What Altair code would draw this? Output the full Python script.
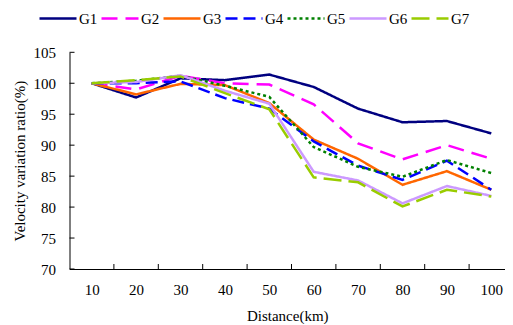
import altair as alt
import pandas as pd

distance = [10, 20, 30, 40, 50, 60, 70, 80, 90, 100]
g1 = [100, 97.7, 100.8, 100.5, 101.4, 99.4, 95.9, 93.7, 93.9, 91.9]
g2 = [100, 99.0, 101.2, 100.0, 99.8, 96.6, 90.3, 87.7, 90.0, 87.8]
g3 = [100, 98.2, 99.9, 99.7, 96.8, 90.9, 87.8, 83.6, 85.8, 82.8]
g4 = [100, 100.0, 100.3, 97.6, 95.9, 90.6, 86.7, 84.4, 87.5, 82.8]
g5 = [100, 100.4, 101.2, 99.6, 97.8, 89.7, 86.5, 84.9, 87.6, 85.5]
g6 = [100, 100.2, 101.3, 98.8, 96.7, 85.7, 84.3, 80.6, 83.4, 81.8]
g7 = [100, 100.5, 101.1, 98.4, 95.8, 84.8, 84.0, 80.1, 82.8, 81.7]

series = ["G1", "G2", "G3", "G4", "G5", "G6", "G7"]
colors = ["#000080", "#FF00FF", "#FF6600", "#0000FF", "#008000", "#CC99FF", "#99CC00"]
dashes = [[1, 0], [16, 8], [1, 0], [12, 6], [3, 3], [1, 0], [18, 7]]
y_ticks = [70, 75, 80, 85, 90, 95, 100, 105]
x_tick_marks = [15, 25, 35, 45, 55, 65, 75, 85, 95]

rows = []
for name, vals in zip(series, [g1, g2, g3, g4, g5, g6, g7]):
    for d, v in zip(distance, vals):
        rows.append({"Distance": d, "Ratio": v, "Group": name})
df = pd.DataFrame(rows)

LEFT = 61.5
UNIT = 4.44
W = 497 - LEFT
H = 216.7
FONT = "Liberation Serif"

x_scale = alt.Scale(domain=[5, 5 + W / UNIT], nice=False, zero=False)
y_scale = alt.Scale(domain=[70, 105], nice=False, zero=False)

x_axis = alt.Axis(values=distance, title="Distance(km)", ticks=False, grid=False,
                  labelPadding=13, titlePadding=11, format="d", labelFlush=False)
y_axis = alt.Axis(values=y_ticks, title="Velocity variation ratio(%)", ticks=False,
                  grid=False, labelPadding=14, titlePadding=6)

legend = alt.Legend(
    orient="none", legendX=8 + 30 - 8 - LEFT, legendY=-53.8, direction="horizontal", columns=7,
    symbolType="stroke", symbolSize=1369, symbolStrokeWidth=2.5,
    labelFont=FONT, labelFontSize=15, labelColor="black", labelOffset=1,
    columnPadding=-2, title=None, padding=0,
)

lines = alt.Chart(df).mark_line(strokeWidth=2.5).encode(
    x=alt.X("Distance:Q", scale=x_scale, axis=x_axis, title="Distance(km)"),
    y=alt.Y("Ratio:Q", scale=y_scale, axis=y_axis, title="Velocity variation ratio(%)"),
    color=alt.Color("Group:N", scale=alt.Scale(domain=series, range=colors), legend=legend),
    strokeDash=alt.StrokeDash("Group:N", scale=alt.Scale(domain=series, range=dashes), legend=legend),
)

ytick = alt.Chart(pd.DataFrame({"v": y_ticks})).mark_rule(color="black", strokeWidth=1).encode(
    y=alt.Y("v:Q", scale=y_scale, axis=y_axis, title="Velocity variation ratio(%)"),
    x=alt.value(0), x2=alt.value(5)
)
xtick = alt.Chart(pd.DataFrame({"v": x_tick_marks})).mark_rule(color="black", strokeWidth=1).encode(
    x=alt.X("v:Q", scale=x_scale, axis=x_axis, title="Distance(km)"),
    y=alt.value(H), y2=alt.value(H - 5)
)

chart = alt.layer(lines, ytick, xtick).properties(
    width=W, height=H,
    autosize=alt.AutoSizeParams(type="none"),
    padding={"left": LEFT, "top": 44.3, "right": 0, "bottom": 55},
    background="white",
).configure_view(stroke=None).configure_axis(
    labelFont=FONT, labelFontSize=15, labelColor="black",
    titleFont=FONT, titleFontSize=15, titleColor="black", titleFontWeight="normal",
    domainColor="black", domainWidth=1,
)

chart.save("out.html", embed_options={"renderer": "svg", "actions": False})
